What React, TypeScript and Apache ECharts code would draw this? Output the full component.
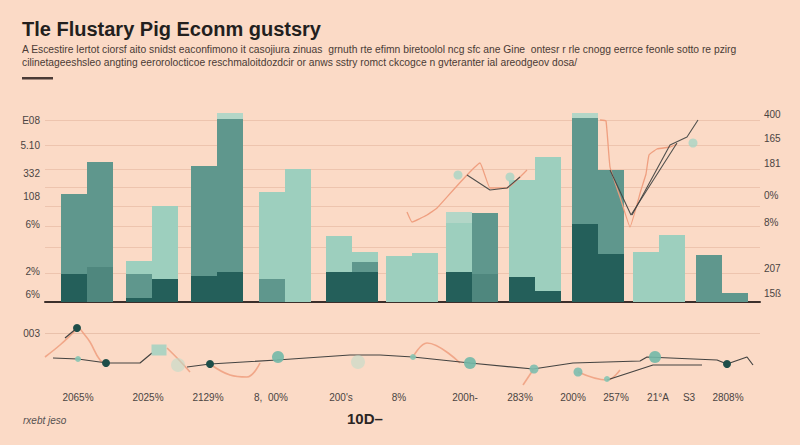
import React, { useEffect, useRef } from "react";
import * as echarts from "echarts";

const FONT = '"Liberation Sans", Arial, sans-serif';
const BG = "#FBDAC6";
const DARK = "#245F5A";
const DEEP = "#4F877E";
const MID = "#5F978D";
const LIGHT = "#9DCFBE";
const PALE = "#B3D6C7";
const BAR_W = 26;

const TITLE = "Tle Flustary Pig Econm gustsry";
const SUB1 =
  "A Escestire lertot ciorsf aito snidst eaconfimono it casojiura zinuas  grnuth rte efimn biretoolol ncg sfc ane Gine  ontesr r rle cnogg eerrce feonle sotto re pzirg";
const SUB2 =
  "cilinetageeshsleo angting eerorolocticoe reschmaloitdozdcir or anws sstry romct ckcogce n gvteranter ial areodgeov dosa/";

// bar groups (x position on the period axis)
const groupX = [87, 152, 217, 285, 352, 412, 472, 535, 598, 659, 722];
// layers per bar: [dark, deep, mid, light, pale]
const leftBars = [
  [28, 0, 80, 0, 0],
  [4, 0, 24, 13, 0],
  [26, 0, 110, 0, 0],
  [0, 0, 23, 87, 0],
  [30, 0, 0, 36, 0],
  [0, 0, 0, 46, 0],
  [30, 0, 0, 49, 11],
  [25, 0, 0, 97, 0],
  [78, 0, 106, 0, 5],
  [0, 0, 0, 50, 0],
  [0, 0, 47, 0, 0],
];
const rightBars = [
  [0, 35, 105, 0, 0],
  [23, 0, 0, 73, 0],
  [30, 0, 153, 0, 6],
  [0, 0, 0, 133, 0],
  [30, 0, 10, 10, 0],
  [0, 0, 0, 49, 0],
  [0, 28, 61, 0, 0],
  [11, 0, 0, 134, 0],
  [48, 0, 84, 0, 0],
  [0, 0, 0, 67, 0],
  [0, 0, 9, 0, 0],
];
const layerNames = ["dark", "deep", "mid", "light", "pale"];
const layerColors = [DARK, DEEP, MID, LIGHT, PALE];

const upperGridVals = [182, 157, 133, 115, 96, 76, 55, 29];
const leftTickVals = [182, 157, 129, 106, 78, 31, 8];
const leftTickText = ["E08", "5.10", "332", "108", "6%", "2%", "6%"];
const rightTickVals = [188, 164, 139, 107, 80, 34, 9];
const rightTickText = ["400", "165", "181", "0%", "8%", "207", "15ß"];

const upperOrange = [
  [[407, 90], [412, 80], [427, 87], [437, 94], [480, 139], [490, 114], [507, 114], [527, 132]],
  [[600, 182], [606, 181], [610, 135], [620, 105], [630, 75], [641, 112], [646, 128], [649, 147], [657, 153], [670, 155], [677, 158]],
];
const upperDark = [
  [[467, 127], [490, 112], [507, 114], [520, 125]],
  [[610, 132], [631, 87], [677, 159]],
  [[632, 87], [670, 157], [687, 165], [698, 182]],
];
const upperBlobs = [[458, 127], [510, 125], [693, 159]];

// lower chart
const lowerGridVals = [52];
const lowerTickText = ["003"];
const lowerLabelX = [78, 148, 208, 271, 341, 399, 465, 520, 573, 616, 658, 689, 728];
const lowerLabelText = ["2065%", "2025%", "2129%", "8,  00%", "200's", "8%", "200h-", "283%", "200%", "257%", "21°A", "S3", "2808%"];

const lowerDark = [
  [[53, 27], [78, 26], [107, 22], [140, 22], [152, 32]],
  [[65, 47], [77, 57]],
  [[187, 18], [210, 21], [277, 25], [350, 30], [380, 30], [413, 28], [470, 22], [533, 16], [573, 22], [640, 24], [647, 28], [717, 25], [727, 21], [747, 28], [753, 20]],
  [[607, 5], [653, 20], [702, 20]],
];
const lowerOrange = [
  [[45, 28], [60, 40], [73, 52], [78, 57], [84, 51], [90, 43], [100, 25], [107, 22]],
  [[167, 37], [180, 24], [190, 13]],
  [[210, 21], [230, 10], [247, 8], [260, 22]],
  [[413, 28], [427, 42], [460, 22]],
  [[523, 0], [533, 15]],
  [[578, 13], [607, 5], [620, 15]],
];
const darkDots = [[77, 57], [106, 22], [210, 21], [727, 21]];
const mintLarge = [[278, 28], [470, 22], [655, 28]];
const mintMedium = [[534, 16], [578, 13]];
const mintSmall = [[78, 26], [413, 28], [607, 6]];
const paleDots = [[178, 20], [358, 23]];
const squareMarks = [[159, 35]];

const X_MIN = 45;
const X_MAX = 760;

export default function App() {
  const ref = useRef<HTMLDivElement>(null);
  useEffect(() => {
    document.body.style.margin = "0";
    if (!ref.current) return;
    const chart = echarts.init(ref.current, null, { renderer: "svg" });

    const series: any[] = [];
    // gridlines
    series.push({
      type: "line",
      xAxisIndex: 0,
      yAxisIndex: 0,
      data: [],
      silent: true,
      z: 0,
      markLine: {
        silent: true,
        z: 0,
        symbol: "none",
        label: { show: false },
        lineStyle: { color: "#EDC4AE", width: 1, type: "solid" },
        data: upperGridVals.map((v) => ({ yAxis: v })),
      },
    });
    series.push({
      type: "line",
      xAxisIndex: 1,
      yAxisIndex: 2,
      data: [],
      silent: true,
      z: 0,
      markLine: {
        silent: true,
        z: 0,
        symbol: "none",
        label: { show: false },
        lineStyle: { color: "#E9C1AB", width: 1, type: "solid" },
        data: lowerGridVals.map((v) => ({ yAxis: v })),
      },
    });
    // bars
    const addStack = (bars: number[][], stack: string) => {
      layerNames.forEach((name, li) => {
        series.push({
          type: "bar",
          name: stack + "-" + name,
          stack,
          xAxisIndex: 0,
          yAxisIndex: 0,
          barWidth: BAR_W,
          barGap: "0%",
          z: 2,
          itemStyle: { color: layerColors[li] },
          data: groupX.map((x, gi) => [x, bars[gi][li]]),
        });
      });
    };
    addStack(leftBars, "L");
    addStack(rightBars, "R");

    const addLines = (segs: number[][][], xi: number, yi: number, color: string, width: number, smooth: number, opacity: number) => {
      segs.forEach((seg) => {
        series.push({
          type: "line",
          xAxisIndex: xi,
          yAxisIndex: yi,
          data: seg,
          smooth,
          symbol: "none",
          z: 3,
          lineStyle: { color, width, opacity },
        });
      });
    };
    addLines(upperOrange, 0, 0, "#EE9C7C", 1.3, 0.1, 0.95);
    addLines(upperDark, 0, 0, "#3E4140", 1.1, 0, 0.9);
    addLines(lowerOrange, 1, 2, "#EE9E7E", 1.6, 0.4, 0.85);
    addLines(lowerDark, 1, 2, "#3A3B3A", 1.2, 0, 0.95);

    const addDots = (pts: number[][], xi: number, yi: number, size: any, color: string, opacity: number, symbol = "circle") => {
      series.push({
        type: "scatter",
        xAxisIndex: xi,
        yAxisIndex: yi,
        data: pts,
        symbol,
        symbolSize: size,
        z: 4,
        itemStyle: { color, opacity },
      });
    };
    addDots(upperBlobs, 0, 0, 9, "#A8D5C4", 0.8);
    addDots(paleDots, 1, 2, 14, "#BCDCCB", 0.55);
    addDots(squareMarks, 1, 2, [15, 11], "#A6D2C1", 0.9, "rect");
    addDots(mintLarge, 1, 2, 12, "#72B8A7", 0.9);
    addDots(mintMedium, 1, 2, 9, "#7DBDAE", 0.9);
    addDots(mintSmall, 1, 2, 6, "#86C4B2", 0.9);
    addDots(darkDots, 1, 2, 8, "#1E4E49", 1);

    const hiddenAxis = {
      axisLine: { show: false },
      axisTick: { show: false },
      splitLine: { show: false },
    };
    const tickLabel = (vals: number[], texts: string[], margin: number) => ({
      customValues: vals,
      formatter: (v: number) => {
        const i = vals.indexOf(v);
        return i >= 0 ? texts[i] : "";
      },
      margin,
      fontSize: 10,
      color: "#4A4442",
      fontFamily: FONT,
    });

    const option: any = {
      animation: false,
      backgroundColor: BG,
      grid: [
        { left: 45, top: 102, width: 715, height: 200 },
        { left: 45, top: 310, width: 715, height: 75 },
      ],
      xAxis: [
        {
          // a time axis widens its extent by the bar overflow on each side,
          // so the configured range is narrowed by the same amount
          type: "time",
          gridIndex: 0,
          min: X_MIN + BAR_W,
          max: X_MAX - BAR_W,
          position: "bottom",
          axisLine: { show: true, onZero: false, lineStyle: { color: "#3B2F2B", width: 2 } },
          axisTick: { show: false },
          axisLabel: { show: false },
          splitLine: { show: false },
        },
        {
          type: "value",
          gridIndex: 1,
          min: X_MIN,
          max: X_MAX,
          ...hiddenAxis,
          axisLabel: tickLabel(lowerLabelX, lowerLabelText, 7),
        },
      ],
      yAxis: [
        {
          type: "value",
          gridIndex: 0,
          min: 0,
          max: 200,
          position: "left",
          ...hiddenAxis,
          axisLabel: tickLabel(leftTickVals, leftTickText, 5),
        },
        {
          type: "value",
          gridIndex: 0,
          min: 0,
          max: 200,
          position: "right",
          ...hiddenAxis,
          axisLabel: tickLabel(rightTickVals, rightTickText, 4),
        },
        {
          type: "value",
          gridIndex: 1,
          min: 0,
          max: 75,
          position: "left",
          ...hiddenAxis,
          axisLabel: tickLabel(lowerGridVals, lowerTickText, 5),
        },
      ],
      graphic: [
        {
          type: "text",
          x: 22,
          y: 29,
          style: { text: TITLE, font: `bold 20px ${FONT}`, fill: "#231F1E", verticalAlign: "middle", textVerticalAlign: "middle" },
        },
        {
          type: "text",
          x: 22,
          y: 49,
          style: { text: SUB1, font: `10.3px ${FONT}`, fill: "#4A3A35", verticalAlign: "middle", textVerticalAlign: "middle" },
        },
        {
          type: "text",
          x: 22,
          y: 62,
          style: { text: SUB2, font: `10.3px ${FONT}`, fill: "#4A3A35", verticalAlign: "middle", textVerticalAlign: "middle" },
        },
        {
          type: "rect",
          shape: { x: 22, y: 77, width: 31, height: 2.5 },
          style: { fill: "#4A3B36" },
        },
        {
          type: "text",
          x: 23,
          y: 420,
          style: { text: "rxebt jeso", font: `italic 10px ${FONT}`, fill: "#555050", verticalAlign: "middle", textVerticalAlign: "middle" },
        },
        {
          type: "text",
          x: 347,
          y: 418,
          style: { text: "10D–", font: `bold 15px ${FONT}`, fill: "#2A2524", verticalAlign: "middle", textVerticalAlign: "middle" },
        },
      ],
      series,
    };
    chart.setOption(option);
    return () => chart.dispose();
  }, []);
  return <div ref={ref} style={{ width: 800, height: 445 }} />;
}
